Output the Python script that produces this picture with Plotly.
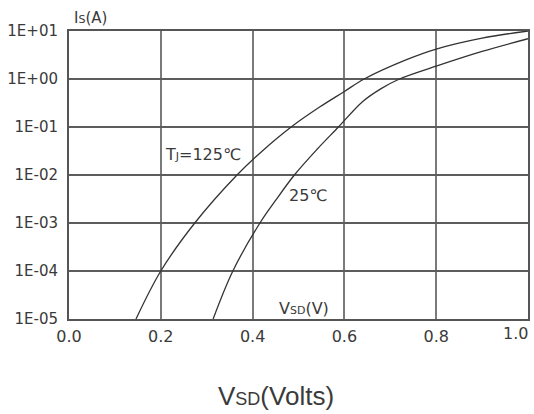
import plotly.graph_objects as go

# Source-drain diode forward characteristics, Is vs Vsd
vsd_125 = [0.146, 0.200, 0.274, 0.366, 0.420, 0.484, 0.546, 0.600, 0.643, 0.734, 0.800, 0.900, 1.000]
is_125 = [1.0e-5, 1.0e-4, 1.0e-3, 1.0e-2, 3.1e-2, 1.0e-1, 2.6e-1, 5.5e-1, 1.0, 2.5, 4.2, 7.1, 10.0]

vsd_25 = [0.314, 0.357, 0.416, 0.450, 0.491, 0.540, 0.587, 0.640, 0.680, 0.720, 0.800, 0.900, 1.000]
is_25 = [1.0e-5, 1.0e-4, 1.0e-3, 2.95e-3, 1.0e-2, 3.4e-2, 1.0e-1, 3.4e-1, 6.3e-1, 1.0, 1.85, 3.75, 6.9]

x_ticks = [0.0, 0.2, 0.4, 0.6, 0.8, 1.0]
x_tick_text = ["0.0", "0.2", "0.4", "0.6", "0.8", ""]
y_ticks = [1e-5, 1e-4, 1e-3, 1e-2, 1e-1, 1e0, 1e1]
y_tick_text = ["1E-05", "1E-04", "1E-03", "1E-02", "1E-01", "1E+00", "1E+01"]

FONT = "DejaVu Sans"
TXT = "#3a3a3a"
CURVE = "#333333"

fig = go.Figure()
for xs, ys in ((vsd_125, is_125), (vsd_25, is_25)):
    fig.add_trace(go.Scatter(
        x=xs, y=ys, mode="lines",
        line=dict(color=CURVE, width=1.3, shape="spline", smoothing=1.0),
        hoverinfo="skip", showlegend=False,
    ))

small = "<span style='font-size:11px'>{}</span>"

annotations = [
    dict(text="T" + small.format("J") + "=125℃", x=0.293, y=-1.58,
         xref="x", yref="y", showarrow=False, font=dict(size=16)),
    dict(text="25℃", x=0.521, y=-2.42, xref="x", yref="y",
         showarrow=False, font=dict(size=16)),
    dict(text="V" + small.format("SD") + "(V)", x=0.513, y=-4.79,
         xref="x", yref="y", showarrow=False, font=dict(size=16)),
    dict(text="I" + small.format("S") + "(A)", x=0.006, y=1.045,
         xref="paper", yref="paper", xanchor="left", yanchor="middle",
         showarrow=False, font=dict(size=15)),
    dict(text="1.0", x=1.0, y=0, xref="paper", yref="paper",
         xanchor="right", yanchor="top", yshift=-3, xshift=2,
         showarrow=False, font=dict(size=16)),
    dict(text="V<span style='font-size:18px'>SD</span>(Volts)",
         x=0.45, y=-0.267, xref="paper", yref="paper",
         xanchor="center", yanchor="middle", showarrow=False,
         font=dict(size=26, family="Liberation Sans, Arial, sans-serif")),
]

fig.update_layout(
    width=534, height=414,
    margin=dict(l=69, r=4, t=31, b=95),
    paper_bgcolor="white", plot_bgcolor="white",
    font=dict(family=FONT, size=16, color=TXT),
    annotations=annotations,
    xaxis=dict(
        range=[0, 1], tickvals=x_ticks, ticktext=x_tick_text,
        showgrid=True, gridcolor="#7a7a7a", gridwidth=1.5,
        showline=True, linecolor="#555555", linewidth=2, mirror=True,
        ticks="", ticklabelstandoff=2, zeroline=False,
        tickfont=dict(size=16, color=TXT),
    ),
    yaxis=dict(
        type="log", range=[-5, 1], tickvals=y_ticks, ticktext=y_tick_text,
        showgrid=True, gridcolor="#5c5c5c", gridwidth=1.5,
        showline=True, linecolor="#555555", linewidth=2, mirror=True,
        ticks="", ticklabelstandoff=6, zeroline=False,
        tickfont=dict(size=15, color=TXT),
    ),
)

fig.write_html("out.html")
